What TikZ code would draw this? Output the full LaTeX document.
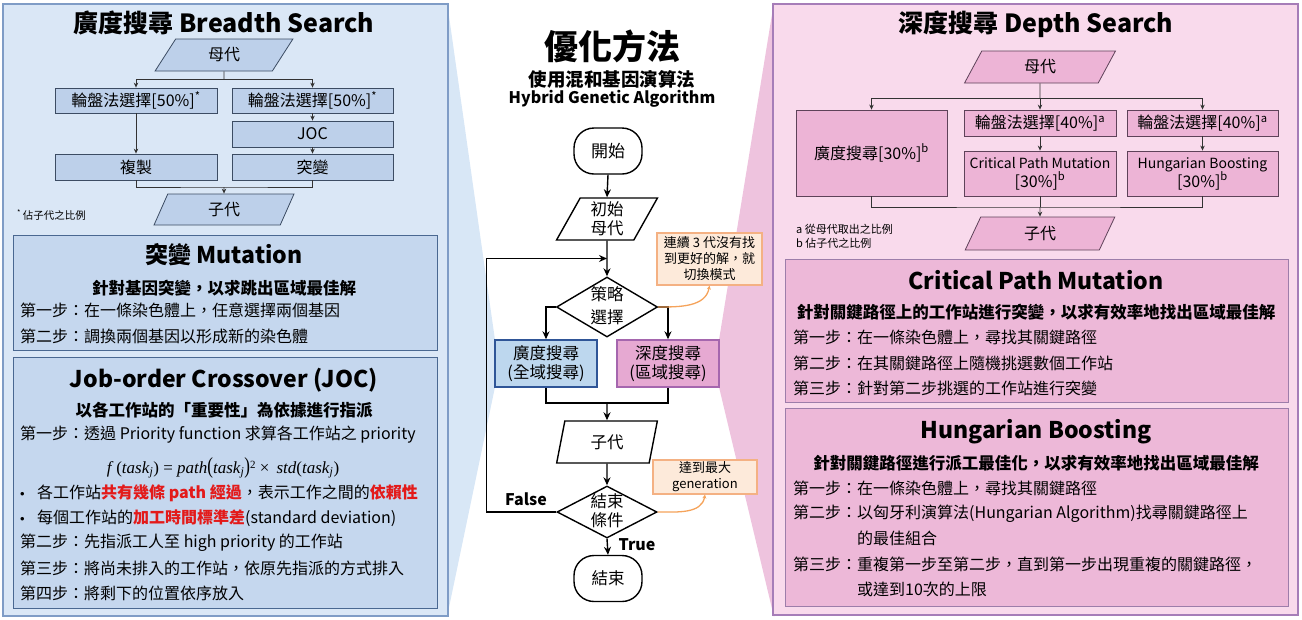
\documentclass[tikz,border=0pt]{standalone}
\usepackage{fontspec}
\setmainfont{Noto Sans CJK TC}
\newfontfamily\tms{Liberation Serif}
\newfontfamily\lsans{Liberation Sans}
\usetikzlibrary{shapes.geometric,arrows.meta,calc}
\newcommand\fs[2]{\fontsize{#1}{#2}\selectfont}
\definecolor{bpanel}{HTML}{DAE7F6}
\definecolor{bpanelB}{HTML}{7F9CC6}
\definecolor{binner}{HTML}{C5D7EE}
\definecolor{binnerB}{HTML}{4A6891}
\definecolor{lboxF}{HTML}{BDD0EA}
\definecolor{lboxB}{HTML}{3C4C63}
\definecolor{bwedge}{HTML}{D8E7F6}
\definecolor{ppanel}{HTML}{F9DAEC}
\definecolor{ppanelB}{HTML}{A67DB8}
\definecolor{pinner}{HTML}{EDB8D8}
\definecolor{pinnerB}{HTML}{9D7DAA}
\definecolor{pboxF}{HTML}{EDB4D6}
\definecolor{pboxB}{HTML}{5E4259}
\definecolor{pwedge}{HTML}{EEC3DE}
\definecolor{bfsF}{HTML}{BDD7EE}
\definecolor{bfsB}{HTML}{2F5597}
\definecolor{dfsF}{HTML}{E6A9D2}
\definecolor{dfsB}{HTML}{A566AE}
\definecolor{noteF}{HTML}{FDEADA}
\definecolor{noteB}{HTML}{F4B183}
\definecolor{curveC}{HTML}{F5A35B}
\definecolor{redt}{HTML}{E31A1A}
\newcommand\sj{\textsubscript{\itshape j}}
\newcommand\bul{\makebox[17pt][l]{{\lsans\fs{13}{16}•}}}
\begin{document}
\begin{tikzpicture}[x=1pt,y=-1pt,
  panelB/.style={fill=bpanel,draw=bpanelB,line width=1.3pt},
  panelP/.style={fill=ppanel,draw=ppanelB,line width=1.3pt},
  innerB/.style={fill=binner,draw=binnerB,line width=1pt},
  innerP/.style={fill=pinner,draw=pinnerB,line width=1pt},
  lbox/.style={draw=lboxB,fill=lboxF,line width=0.8pt,minimum height=25,inner sep=0,font=\fs{16}{19}},
  pbox/.style={draw=pboxB,fill=pboxF,line width=0.8pt,minimum height=26,inner sep=0,font=\fs{16}{19},align=center},
  para/.style={trapezium,trapezium stretches=true,inner sep=0},
  lline/.style={draw=black!80,line width=0.8pt},
  larr/.style={lline,-{Stealth[length=5pt,width=4.5pt]}},
  cline/.style={draw=black,line width=1.4pt},
  carr/.style={cline,-{Stealth[length=8pt,width=7pt]}},
  cshape/.style={draw=black,fill=white,line width=1.4pt,inner sep=0,font=\fs{16.5}{19},align=center},
  term/.style={cshape,rounded corners=20pt,minimum width=68,minimum height=46},
  dia/.style={diamond,draw=black,fill=white,line width=1.4pt,inner sep=0,aspect=1.7},
  note/.style={draw=noteB,fill=noteF,line width=1.2pt,inner sep=0,font=\fs{13}{16},align=center},
  carc/.style={draw=curveC,line width=1.3pt,-{Stealth[length=4pt,width=4pt]}},
  ttl/.style={font=\fs{25}{30}\bfseries},
  hd/.style={font=\fs{23}{28}\bfseries},
  sub/.style={font=\fs{16.5}{20}\bfseries},
  txt/.style={anchor=west,inner sep=0,font=\fs{16}{20}},
  small/.style={anchor=west,inner sep=0,font=\fs{11}{13}}]
\useasboundingbox (0,0) rectangle (1302,619);
% wedges
\fill[bwedge] (447,2) -- (495,340) -- (495,387) -- (447,617) -- cycle;
\fill[pwedge] (774,2) -- (719,340) -- (719,387) -- (774,617) -- cycle;
% panels
\draw[panelB] (3,4) rectangle (448,616);
\draw[panelP] (773,4) rectangle (1298,615);
\draw[innerB] (13,235) rectangle (437,350);
\draw[innerB] (13,357) rectangle (437,608);
\draw[innerP] (785,259) rectangle (1288,402);
\draw[innerP] (785,408) rectangle (1288,606);

% ===== left panel =====
\node[ttl] (ltitle) at (224,23) {廣度搜尋 Breadth Search};
\node[para,draw=lboxB,fill=lboxF,line width=0.8pt,trapezium left angle=65,trapezium right angle=115,minimum width=138,minimum height=32,font=\fs{16}{19}] (lm) at (224,55) {母代};
\node[lbox,minimum width=162] (lr1) at (136,100.5) {輪盤法選擇[50\%]\textsuperscript{*}};
\node[lbox,minimum width=161] (lr2) at (312.5,100.5) {輪盤法選擇[50\%]\textsuperscript{*}};
\node[lbox,minimum width=161,minimum height=26] (ljoc) at (312.5,134) {JOC};
\node[lbox,minimum width=162,minimum height=26] (lcopy) at (136,167) {複製};
\node[lbox,minimum width=161,minimum height=26] (lmut) at (312.5,167) {突變};
\node[para,draw=lboxB,fill=lboxF,line width=0.8pt,trapezium left angle=75,trapezium right angle=105,minimum width=140,minimum height=31,font=\fs{16}{19}] (lc) at (224,209.5) {子代};
\coordinate (ls) at (224,79);
\coordinate (lj) at (224,187);
\draw[lline] (lm.south) -- (ls);
\draw[larr] (ls) -| (lr1.north);
\draw[larr] (ls) -| (lr2.north);
\draw[larr] (lr1.south) -- (lcopy.north);
\draw[larr] (lr2.south) -- (ljoc.north);
\draw[larr] (ljoc.south) -- (lmut.north);
\draw[lline] (lcopy.south) |- (lj) -| (lmut.south);
\draw[larr] (lj) -- (lc.north);
\node[small,font=\fs{10.5}{12}] (lnote) at (17,215) {\textsuperscript{*}\,佔子代之比例};

% mutation box
\node[hd] (mt) at (224,255) {突變 Mutation};
\node[sub] (ms) at (224,288) {針對基因突變，以求跳出區域最佳解};
\node[txt] (m1) at (20,310) {第一步：在一條染色體上，任意選擇兩個基因};
\node[txt] (m2) at (20,336) {第二步：調換兩個基因以形成新的染色體};

% JOC box
\node[hd] (jt) at (224,380) {Job-order Crossover (JOC)};
\node[sub] (js) at (224,410) {以各工作站的「重要性」為依據進行指派};
\node[txt] (j1) at (20,435) {第一步：透過 Priority function 求算各工作站之 priority};
\node[inner sep=0,font=\tms\fs{17}{20}] (jf) at (223,468) {\textit{f}\,(\textit{task}\sj) = \textit{path}\scalebox{1}[1.35]{(}\textit{task}\sj\scalebox{1}[1.35]{)}\raisebox{0.6ex}{\fs{11}{12}2} ×\, \textit{std}(\textit{task}\sj)};
\node[txt] (jb1) at (20,493) {\bul 各工作站\textcolor{redt}{\bfseries 共有幾條 path 經過}，表示工作之間的\textcolor{redt}{\bfseries 依賴性}};
\node[txt] (jb2) at (20,518) {\bul 每個工作站的\textcolor{redt}{\bfseries 加工時間標準差}(standard deviation)};
\node[txt] (j2) at (20,543) {第二步：先指派工人至 high priority 的工作站};
\node[txt] (j3) at (20,568) {第三步：將尚未排入的工作站，依原先指派的方式排入};
\node[txt] (j4) at (20,593) {第四步：將剩下的位置依序放入};

% ===== centre =====
\node[font=\fs{34}{40}\bfseries] (ctitle) at (612,46) {優化方法};
\node[font=\fs{18.5}{22}\bfseries] (csub) at (612,79) {使用混和基因演算法};
\node[font=\fs{16}{20}\bfseries] (ceng) at (612,99) {Hybrid Genetic Algorithm};
\node[term,font=\fs{17}{20}] (start) at (608,151) {開始};
\node[para,cshape,trapezium left angle=67,trapezium right angle=113,minimum width=101,minimum height=42] (init) at (607,219) {初始\\母代};
\node[dia,minimum width=101,minimum height=60] (d1) at (607,307) {};
\node[font=\fs{16.5}{23},align=center,inner sep=0] (d1t) at (607,306) {策略\\選擇};
\node[cshape,fill=bfsF,draw=bfsB,minimum width=102,minimum height=47] (bfs) at (546,363.5) {廣度搜尋\\(全域搜尋)};
\node[cshape,fill=dfsF,draw=dfsB,minimum width=102,minimum height=47] (dfs) at (668,363.5) {深度搜尋\\(區域搜尋)};
\node[para,cshape,trapezium left angle=78,trapezium right angle=102,minimum width=101,minimum height=42] (child) at (607,442) {子代};
\node[dia,minimum width=100,minimum height=52] (d2) at (607,512) {};
\node[font=\fs{16.5}{19},align=center,inner sep=0] (d2t) at (607,511) {結束\\條件};
\node[term] (stop) at (608,578.5) {結束};
\node[note,minimum width=105,minimum height=52] (n1) at (709.5,259) {連續 3 代沒有找\\到更好的解，就\\切換模式};
\node[note,minimum width=104,minimum height=34] (n2) at (705,477) {達到最大\\generation};
\node[font=\fs{16}{20}\bfseries] (flab) at (526,499) {False};
\node[font=\fs{16}{20}\bfseries] (tlab) at (637,545) {True};
\coordinate (lp) at ($(init.south)!0.5!(d1.north)$);
\coordinate (mj) at (607,403);
\draw[carr] (start.south) -- (init.north);
\draw[carr] (init.south) -- (d1.north);
\draw[carr] (d1.west) -| (bfs.north);
\draw[carr] (d1.east) -| (dfs.north);
\draw[cline] (bfs.south) |- (mj) -| (dfs.south);
\draw[carr] (mj) -- (child.north);
\draw[carr] (child.south) -- (d2.north);
\draw[carr] (d2.south) -- (stop.north);
\draw[carr] (d2.west) -- ++(-70,0) |- (lp);
\draw[carc] (d1.east) to[out=0,in=-100] (n1.south);
\draw[carc] (d2.east) to[out=0,in=-100] (n2.south);

% ===== right panel =====
\node[ttl] (rtitle) at (1036,24) {深度搜尋 Depth Search};
\node[para,draw=pboxB,fill=pboxF,line width=0.8pt,trapezium left angle=72,trapezium right angle=108,minimum width=151,minimum height=32,font=\fs{16}{19}] (rm) at (1040,67) {母代};
\node[pbox,minimum width=151,minimum height=86] (rb1) at (871.5,153) {廣度搜尋[30\%]\textsuperscript{b}};
\node[pbox,minimum width=152] (rr1) at (1040,123) {輪盤法選擇[40\%]\textsuperscript{a}};
\node[pbox,minimum width=152,minimum height=45] (rcp) at (1040,173.5) {{\fs{14}{17}Critical Path Mutation}\\{}[30\%]\textsuperscript{b}};
\node[pbox,minimum width=151] (rr2) at (1202.5,123) {輪盤法選擇[40\%]\textsuperscript{a}};
\node[pbox,minimum width=151,minimum height=45] (rhb) at (1202.5,173.5) {{\fs{14}{17}Hungarian Boosting}\\{}[30\%]\textsuperscript{b}};
\node[para,draw=pboxB,fill=pboxF,line width=0.8pt,trapezium left angle=74,trapezium right angle=106,minimum width=150,minimum height=33,font=\fs{16}{19}] (rc) at (1040,233.5) {子代};
\coordinate (rs) at (1040,98);
\coordinate (rj) at (1040,207);
\draw[lline] (rm.south) -- (rs);
\draw[larr] (rs) -| (rb1.north);
\draw[larr] (rs) -| (rr2.north);
\draw[larr] (rs) -- (rr1.north);
\draw[larr] (rr1.south) -- (rcp.north);
\draw[larr] (rr2.south) -- (rhb.north);
\draw[lline] (rb1.south) |- (rj) -| (rhb.south);
\draw[lline] (rcp.south) -- (rj);
\draw[larr] (rj) -- (rc.north);
\node[small] (rn1) at (796,229) {a 從母代取出之比例};
\node[small] (rn2) at (796,243) {b 佔子代之比例};

% CPM box
\node[hd] (ct) at (1036,280) {Critical Path Mutation};
\node[sub] (cs) at (1036,312) {針對關鍵路徑上的工作站進行突變，以求有效率地找出區域最佳解};
\node[txt] (c1) at (793,337) {第一步：在一條染色體上，尋找其關鍵路徑};
\node[txt] (c2) at (793,363) {第二步：在其關鍵路徑上隨機挑選數個工作站};
\node[txt] (c3) at (793,388) {第三步：針對第二步挑選的工作站進行突變};

% HB box
\node[hd] (ht) at (1036,432) {Hungarian Boosting};
\node[sub] (hs) at (1036,463) {針對關鍵路徑進行派工最佳化，以求有效率地找出區域最佳解};
\node[txt] (h1) at (793,488) {第一步：在一條染色體上，尋找其關鍵路徑};
\node[txt] (h2) at (793,514) {第二步：以匈牙利演算法(Hungarian Algorithm)找尋關鍵路徑上};
\node[txt] (h2b) at (857,538) {的最佳組合};
\node[txt] (h3) at (793,564) {第三步：重複第一步至第二步，直到第一步出現重複的關鍵路徑，};
\node[txt] (h3b) at (857,589) {或達到10次的上限};
\end{tikzpicture}
\end{document}
